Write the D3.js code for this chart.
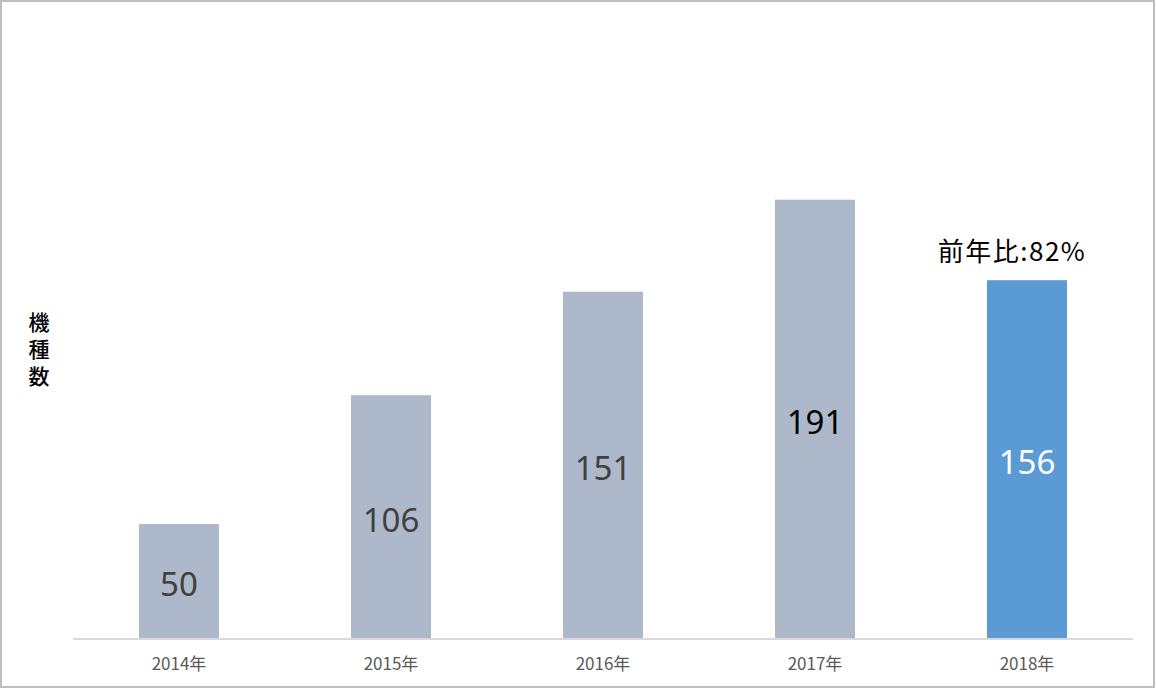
<!DOCTYPE html>
<html>
<head>
<meta charset="utf-8">
<script src="https://cdn.jsdelivr.net/npm/d3@7"></script>
<style>
  html, body { margin: 0; padding: 0; background: #fff; }
  svg { display: block; }
</style>
</head>
<body>
<script>
// chart data
const years = ["2014年", "2015年", "2016年", "2017年", "2018年"];
const counts = [50, 106, 151, 191, 156];
const labelColors = ["#404040", "#404040", "#404040", "#000000", "#ffffff"];
const barColors = ["#adb9ca", "#adb9ca", "#adb9ca", "#adb9ca", "#5b9bd5"];
const yTitle = "機種数";
const note = "前年比:82%";

const width = 1156, height = 689;
const margin = { top: 64, right: 23, bottom: 50, left: 73 };
const latin = "'Noto Sans', 'Open Sans', sans-serif";
const cjk = "'Noto Sans CJK JP', 'Noto Sans', sans-serif";

const svg = d3.select("body").append("svg")
  .attr("width", width)
  .attr("height", height);

// outer frame
svg.append("rect")
  .attr("x", 1).attr("y", 1)
  .attr("width", width - 3).attr("height", height - 3)
  .attr("fill", "#fff")
  .attr("stroke", "#bfbfbf")
  .attr("stroke-width", 2);

const x = d3.scaleBand()
  .domain(years)
  .range([margin.left, width - margin.right])
  .paddingInner(0.6226)
  .paddingOuter(0.3113);

const y = d3.scaleLinear()
  .domain([0, 250])
  .range([height - margin.bottom, margin.top]);

const data = years.map((yr, i) => ({ yr, v: counts[i], fill: barColors[i], lc: labelColors[i] }));

// bars
svg.selectAll(".bar")
  .data(data)
  .enter().append("rect")
  .attr("class", "bar")
  .attr("x", d => x(d.yr))
  .attr("y", d => y(d.v))
  .attr("width", x.bandwidth())
  .attr("height", d => y(0) - y(d.v))
  .attr("fill", d => d.fill);

// value labels centred in the bars
svg.selectAll(".val")
  .data(data)
  .enter().append("text")
  .attr("class", "val")
  .attr("x", d => x(d.yr) + x.bandwidth() / 2)
  .attr("y", d => (y(d.v) + y(0)) / 2)
  .attr("dy", "0.45em")
  .attr("text-anchor", "middle")
  .attr("font-family", latin)
  .attr("font-size", 33)
  .attr("fill", d => d.lc)
  .text(d => d.v);

// x axis
const xAxis = svg.append("g")
  .attr("transform", `translate(0,${y(0)})`)
  .call(d3.axisBottom(x).tickSize(0).tickPadding(19));
xAxis.select(".domain")
  .attr("stroke", "#d9d9d9")
  .attr("stroke-width", 2)
  .attr("d", `M${margin.left},0H${width - margin.right}`);
xAxis.selectAll("text")
  .attr("font-family", cjk)
  .attr("font-size", 17)
  .attr("fill", "#595959");

// vertical y title
svg.append("text")
  .attr("x", 39)
  .attr("y", 312)
  .attr("writing-mode", "vertical-rl")
  .attr("letter-spacing", 6)
  .attr("font-family", cjk)
  .attr("font-size", 21)
  .attr("font-weight", 500)
  .attr("fill", "#000")
  .text(yTitle);

// year-over-year note above the 2018 bar
const last = data[data.length - 1];
svg.append("text")
  .attr("x", x(last.yr) + x.bandwidth() / 2 - 15)
  .attr("y", y(last.v) - 19)
  .attr("text-anchor", "middle")
  .attr("font-family", cjk)
  .attr("font-size", 26)
  .attr("letter-spacing", 1.5)
  .attr("fill", "#000")
  .text(note);
</script>
</body>
</html>
